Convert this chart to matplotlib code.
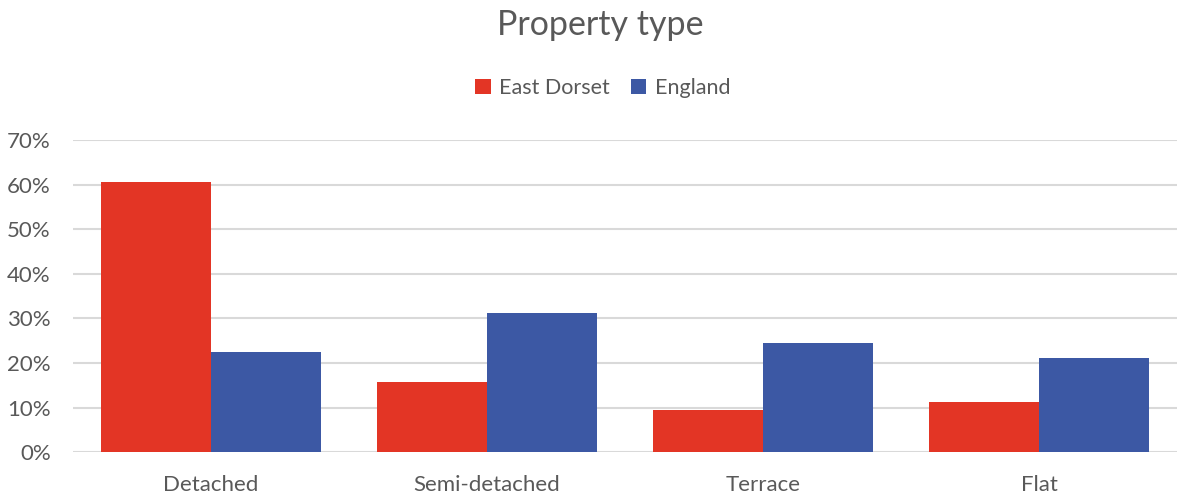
import matplotlib.pyplot as plt
import numpy as np
from matplotlib.ticker import PercentFormatter

categories = ['Detached', 'Semi-detached', 'Terrace', 'Flat']
east_dorset = [60.6, 15.7, 9.5, 11.3]
england = [22.4, 31.2, 24.4, 21.1]

RED = '#E33525'
BLUE = '#3C58A4'
TEXT = '#595959'
GRID = '#D9D9D9'

plt.rcParams['font.family'] = ['Lato', 'DejaVu Sans']

fig = plt.figure(figsize=(11.78, 4.97), dpi=100)
ax = fig.add_axes([73 / 1178, 1 - 452.3 / 497, 1104 / 1178, 312.3 / 497])

x = np.arange(len(categories))
w = 0.4
ax.bar(x - w / 2, east_dorset, w, color=RED, label='East Dorset', zorder=3)
ax.bar(x + w / 2, england, w, color=BLUE, label='England', zorder=3)

ax.set_xlim(-0.5, len(categories) - 0.5)
ax.set_ylim(0, 70)
ax.set_yticks(range(0, 71, 10))
ax.yaxis.set_major_formatter(PercentFormatter(decimals=0))
ax.set_xticks(x)
ax.set_xticklabels(categories)

ax.grid(axis='y', color=GRID, linewidth=1.5, zorder=0)
for s in ax.spines.values():
    s.set_visible(False)
ax.tick_params(axis='both', length=0, labelsize=16, labelcolor=TEXT)
ax.tick_params(axis='y', pad=16)
ax.tick_params(axis='x', pad=16)

fig.text(600 / 1178, 1 - 25 / 497, 'Property type', ha='center', va='center',
         fontsize=24.5, color=TEXT)
fig.legend(loc='center', bbox_to_anchor=(603 / 1178, 1 - 88 / 497), ncol=2, frameon=False,
           fontsize=15.5, labelcolor=TEXT, handlelength=0.7, handleheight=0.7,
           handletextpad=0.4, columnspacing=1.0)

fig.savefig('out.png', dpi=100)
